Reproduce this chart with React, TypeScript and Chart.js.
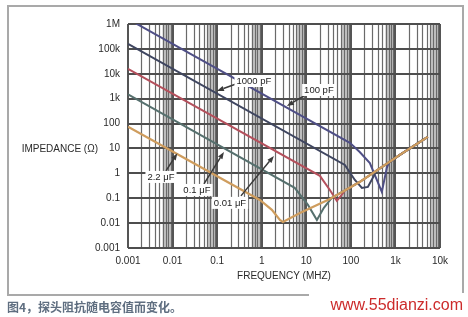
import React, { useEffect, useRef } from 'react';
import { Chart, registerables } from 'chart.js';

Chart.register(...registerables);

// Axis ticks
const xTickValues = [0.001, 0.01, 0.1, 1, 10, 100, 1000, 10000];
const xTickLabels = ['0.001', '0.01', '0.1', '1', '10', '100', '1k', '10k'];
const yTickValues = [0.001, 0.01, 0.1, 1, 10, 100, 1000, 10000, 100000, 1000000];
const yTickLabels = ['0.001', '0.01', '0.1', '1', '10', '100', '1k', '10k', '100k', '1M'];
const minorMultiples = [2, 3, 4, 5, 6, 7, 8, 9];

// Series: frequency (MHz) / impedance (ohm)
const f2u2 = [0.001, 0.91, 1.69, 2.56, 2.99, 7.2, 33.8, 158, 1256, 5320];
const z2u2 = [75, 0.085, 0.034, 0.0134, 0.0112, 0.0257, 0.093, 0.45, 5.5, 29];

const f0u1 = [0.001, 5.5, 10.9, 17.3, 24.8, 37.5, 158, 1256, 5320];
const z0u1 = [1500, 0.26, 0.054, 0.0134, 0.041, 0.105, 0.45, 5.5, 29];

const f0u01 = [0.001, 20.2, 33.8, 48.5, 59.7, 73.3, 158, 1256, 5320];
const z0u01 = [15900, 0.79, 0.215, 0.078, 0.123, 0.205, 0.45, 5.5, 29];

const f1000p = [0.001, 73.3, 123, 177, 241, 328, 363, 1256, 5320];
const z1000p = [159000, 2.17, 0.54, 0.26, 0.284, 0.787, 1.22, 5.5, 29];

const f100p = [0.001, 95, 158, 267, 495, 641, 711, 1256, 5320];
const z100p = [1590000, 16.75, 7.2, 2.6, 0.18, 1.65, 2.7, 5.5, 29];

// Annotations: label text, label position (f, Z), arrow tail (f, Z), arrow tip (f, Z)
const annLabels = ['1000 pF', '100 pF', '2.2 μF', '0.1 μF', '0.01 μF'];
const annLabelF = [0.668, 19.2, 0.0055, 0.0352, 0.194];
const annLabelZ = [5130, 2230, 0.716, 0.215, 0.065];
const annTailF = [0.264, 8.83, 0.0071, 0.0506, 0.342];
const annTailZ = [3890, 1290, 1.26, 0.375, 0.124];
const annTipF = [0.099, 3.67, 0.0128, 0.142, 1.88];
const annTipZ = [2040, 510, 6.4, 7.2, 5.0];

const pts = (f: number[], z: number[]) => f.map((x, i) => ({ x, y: z[i] }));

const FONT = "'Liberation Sans', Arial, sans-serif";

const gridPlugin = {
  id: 'logGrid',
  beforeDatasetsDraw(chart: any) {
    const { ctx, chartArea: a, scales } = chart;
    const xs = scales.x;
    const ys = scales.y;
    ctx.save();
    const decades = xTickValues.slice(0, -1);
    // gray bands near the end of each decade
    ctx.fillStyle = 'rgba(120,120,120,0.42)';
    decades.forEach((d) => {
      const x0 = xs.getPixelForValue(6 * d);
      const x1 = xs.getPixelForValue(10 * d);
      ctx.fillRect(x0, a.top, x1 - x0, a.bottom - a.top);
    });
    // minor vertical lines
    ctx.strokeStyle = '#6a6a6a';
    ctx.lineWidth = 1.2;
    decades.forEach((d) => {
      minorMultiples.forEach((m) => {
        const px = Math.round(xs.getPixelForValue(m * d)) + 0.5;
        ctx.beginPath();
        ctx.moveTo(px, a.top);
        ctx.lineTo(px, a.bottom);
        ctx.stroke();
      });
    });
    // decade vertical lines
    ctx.strokeStyle = '#555';
    ctx.lineWidth = 2;
    xTickValues.forEach((v) => {
      const px = Math.round(xs.getPixelForValue(v));
      ctx.beginPath();
      ctx.moveTo(px, a.top);
      ctx.lineTo(px, a.bottom);
      ctx.stroke();
    });
    // horizontal decade lines
    ctx.strokeStyle = '#4e4e4e';
    ctx.lineWidth = 2;
    yTickValues.forEach((v) => {
      const py = Math.round(ys.getPixelForValue(v));
      ctx.beginPath();
      ctx.moveTo(a.left, py);
      ctx.lineTo(a.right, py);
      ctx.stroke();
    });
    ctx.restore();
  },
  afterDatasetsDraw(chart: any) {
    const { ctx, scales } = chart;
    const xs = scales.x;
    const ys = scales.y;
    ctx.save();
    // arrows
    annLabels.forEach((_, i) => {
      const tx = xs.getPixelForValue(annTailF[i]);
      const ty = ys.getPixelForValue(annTailZ[i]);
      const hx = xs.getPixelForValue(annTipF[i]);
      const hy = ys.getPixelForValue(annTipZ[i]);
      const ang = Math.atan2(hy - ty, hx - tx);
      const len = 7;
      const bx = hx - len * Math.cos(ang);
      const by = hy - len * Math.sin(ang);
      ctx.strokeStyle = '#3a3a3a';
      ctx.fillStyle = '#3a3a3a';
      ctx.lineWidth = 1.5;
      ctx.beginPath();
      ctx.moveTo(tx, ty);
      ctx.lineTo(bx, by);
      ctx.stroke();
      ctx.beginPath();
      ctx.moveTo(hx, hy);
      ctx.lineTo(bx + 2.6 * Math.sin(ang), by - 2.6 * Math.cos(ang));
      ctx.lineTo(bx - 2.6 * Math.sin(ang), by + 2.6 * Math.cos(ang));
      ctx.closePath();
      ctx.fill();
    });
    // labels
    ctx.font = `9.5px ${FONT}`;
    ctx.textAlign = 'center';
    ctx.textBaseline = 'middle';
    annLabels.forEach((t, i) => {
      const cx = xs.getPixelForValue(annLabelF[i]);
      const cy = ys.getPixelForValue(annLabelZ[i]);
      const w = ctx.measureText(t).width;
      ctx.fillStyle = '#ffffff';
      ctx.fillRect(cx - w / 2 - 2, cy - 6, w + 4, 12);
      ctx.fillStyle = '#222';
      ctx.fillText(t, cx, cy + 0.5);
    });
    // y axis title
    ctx.font = `10px ${FONT}`;
    ctx.textAlign = 'right';
    ctx.fillStyle = '#2a2a2a';
    ctx.fillText('IMPEDANCE (Ω)', 98, ys.getPixelForValue(10) + 1);
    ctx.restore();
  },
};

export default function App() {
  const ref = useRef<HTMLCanvasElement>(null);

  useEffect(() => {
    document.body.style.margin = '0';
    const canvas = ref.current;
    if (!canvas) return;
    const lineDs = (label: string, data: any, color: string, width = 2) => ({
      label,
      data,
      borderColor: color,
      backgroundColor: color,
      borderWidth: width,
      pointRadius: 0,
      tension: 0,
      fill: false,
    });
    const chart = new Chart(canvas, {
      type: 'line',
      data: {
        datasets: [
          lineDs('2.2 μF', pts(f2u2, z2u2), '#cf9d5e', 2.2),
          lineDs('0.1 μF', pts(f0u1, z0u1), '#56706e', 2),
          lineDs('0.01 μF', pts(f0u01, z0u01), '#b4505c', 2),
          lineDs('1000 pF', pts(f1000p, z1000p), '#3f4660', 2),
          lineDs('100 pF', pts(f100p, z100p), '#4f4f86', 2),
        ],
      },
      options: {
        responsive: false,
        animation: false,
        devicePixelRatio: 1,
        layout: { padding: { left: 0, right: 28, top: 24, bottom: 29 } },
        plugins: {
          legend: { display: false },
          tooltip: { enabled: false },
        },
        scales: {
          x: {
            type: 'logarithmic',
            min: 0.001,
            max: 10000,
            grid: { display: false, drawTicks: false },
            border: { display: false },
            afterBuildTicks: (s: any) => {
              s.ticks = xTickValues.map((v) => ({ value: v }));
            },
            afterFit: (s: any) => {
              s.height = 40;
            },
            ticks: {
              autoSkip: false,
              maxRotation: 0,
              padding: 7,
              color: '#2a2a2a',
              font: { family: FONT, size: 10 },
              callback: (v: any) => xTickLabels[xTickValues.indexOf(Number(v))],
            },
            title: {
              display: true,
              text: 'FREQUENCY (MHZ)',
              color: '#2a2a2a',
              font: { family: FONT, size: 10 },
              padding: { top: 0, bottom: 6 },
            },
          },
          y: {
            type: 'logarithmic',
            min: 0.001,
            max: 1000000,
            grid: { display: false, drawTicks: false },
            border: { display: false },
            afterBuildTicks: (s: any) => {
              s.ticks = yTickValues.map((v) => ({ value: v }));
            },
            afterFit: (s: any) => {
              s.width = 128;
            },
            ticks: {
              autoSkip: false,
              padding: 8,
              color: '#2a2a2a',
              font: { family: FONT, size: 10 },
              callback: (v: any) => yTickLabels[yTickValues.indexOf(Number(v))],
            },
          },
        },
      },
      plugins: [gridPlugin],
    } as any);
    return () => chart.destroy();
  }, []);

  const line = (s: React.CSSProperties): React.CSSProperties => ({
    position: 'absolute',
    background: '#a9a9a9',
    ...s,
  });

  return (
    <div style={{ position: 'fixed', left: 0, top: 0, width: 468, height: 317, background: '#fff', overflow: 'hidden' }}>
      <canvas ref={ref} width={468} height={317} style={{ position: 'absolute', left: 0, top: 0, width: 468, height: 317 }} />
      <div style={line({ left: 7, top: 5, width: 457, height: 2 })} />
      <div style={line({ left: 7, top: 5, width: 2, height: 291 })} />
      <div style={line({ left: 462, top: 5, width: 2, height: 288 })} />
      <div style={line({ left: 7, top: 294, width: 302, height: 2 })} />
      <div
        style={{
          position: 'absolute',
          left: 7,
          top: 299,
          fontFamily: "'Noto Sans CJK SC', sans-serif",
          fontWeight: 700,
          fontSize: 12,
          lineHeight: '16px',
          color: '#5f6e80',
          whiteSpace: 'nowrap',
        }}
      >
        图4，探头阻抗随电容值而变化。
      </div>
      <div
        style={{
          position: 'absolute',
          right: 5,
          top: 295,
          fontFamily: FONT,
          fontSize: 16,
          lineHeight: '20px',
          color: '#cc2b2b',
          whiteSpace: 'nowrap',
        }}
      >
        www.55dianzi.com
      </div>
    </div>
  );
}
